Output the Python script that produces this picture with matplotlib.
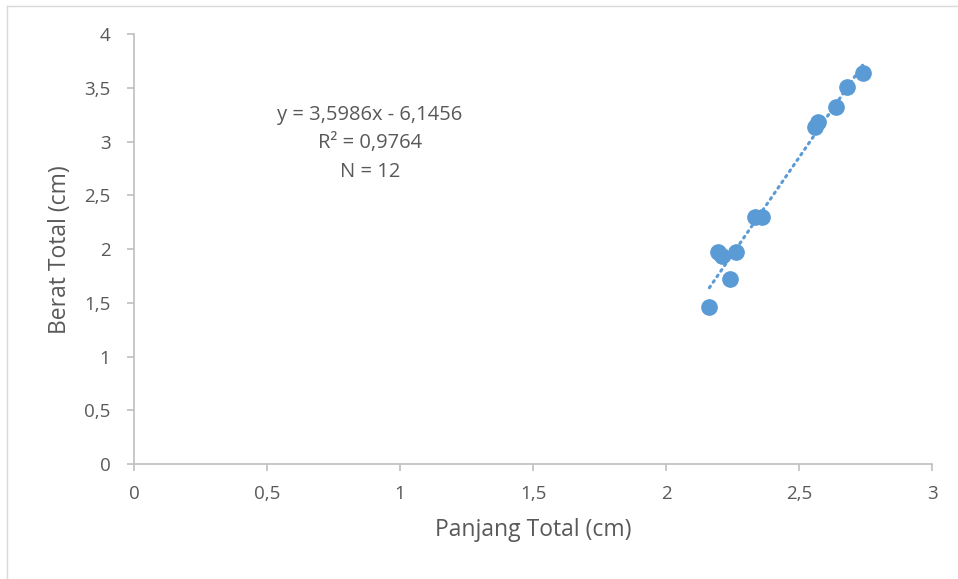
import matplotlib.pyplot as plt
from matplotlib.lines import Line2D
import numpy as np

# panjang total vs berat total
panjang = [2.163, 2.241, 2.197, 2.209, 2.262, 2.335, 2.360, 2.560, 2.573, 2.639, 2.682, 2.739]
berat = [1.465, 1.725, 1.977, 1.937, 1.977, 2.303, 2.303, 3.140, 3.187, 3.327, 3.513, 3.637]

x_ticks = [0, 0.5, 1, 1.5, 2, 2.5, 3]
y_ticks = [0, 0.5, 1, 1.5, 2, 2.5, 3, 3.5, 4]

plt.rcParams['font.family'] = ['Open Sans', 'DejaVu Sans']
grey = '#595959'
blue = '#5B9BD5'

fig = plt.figure(figsize=(9.58, 5.79), dpi=100)
ax = fig.add_axes([134 / 958, 1 - 464 / 579, (932 - 134) / 958, (464 - 34.3) / 579])

ax.plot(panjang, berat, 'o', color=blue, markersize=11, zorder=3)

# linear trendline
a, b = np.polyfit(panjang, berat, 1)
xs = np.array([min(panjang), max(panjang)])
ax.plot(xs, a * xs + b, color=blue, lw=2.2, linestyle=(0, (0.6, 1.6)),
        dash_capstyle='round', zorder=2)

ax.set_xlim(0, 3)
ax.set_ylim(0, 4)
ax.set_xticks(x_ticks)
ax.set_yticks(y_ticks)
ax.set_xticklabels([str(t).replace('.', ',') for t in x_ticks])
ax.set_yticklabels([str(t).replace('.', ',').replace(',0', '') if t != 0 else '0' for t in y_ticks])

for s in ['top', 'right']:
    ax.spines[s].set_visible(False)
for s in ['left', 'bottom']:
    ax.spines[s].set_color('#BFBFBF')
    ax.spines[s].set_linewidth(1.2)
ax.tick_params(colors='#BFBFBF', labelcolor=grey, labelsize=13.5, length=5, width=1.2)
ax.tick_params(axis='y', pad=12)
ax.tick_params(axis='x', pad=10)

ax.set_xlabel('Panjang Total (cm)', fontsize=16.5, color=grey)
ax.set_ylabel('Berat Total (cm)', fontsize=16.5, color=grey)
ax.xaxis.set_label_coords(0.5, -0.125)
ax.yaxis.set_label_coords(-0.078, 0.5)

fig.text(370 / 958, 1 - 115 / 579, 'y = 3,5986x - 6,1456', ha='center', va='center', fontsize=14.5, color=grey)
fig.text(370 / 958, 1 - 143 / 579, 'R² = 0,9764', ha='center', va='center', fontsize=14.5, color=grey)
fig.text(370 / 958, 1 - 172 / 579, 'N = 12', ha='center', va='center', fontsize=14.5, color=grey)

# chart frame (left/top edges visible)
fig.add_artist(Line2D([7 / 958, 7 / 958], [0, 1 - 6 / 579], transform=fig.transFigure, color='#D9D9D9', lw=1))
fig.add_artist(Line2D([7 / 958, 1], [1 - 6 / 579, 1 - 6 / 579], transform=fig.transFigure, color='#D9D9D9', lw=1))

fig.savefig('out.png', dpi=100)
